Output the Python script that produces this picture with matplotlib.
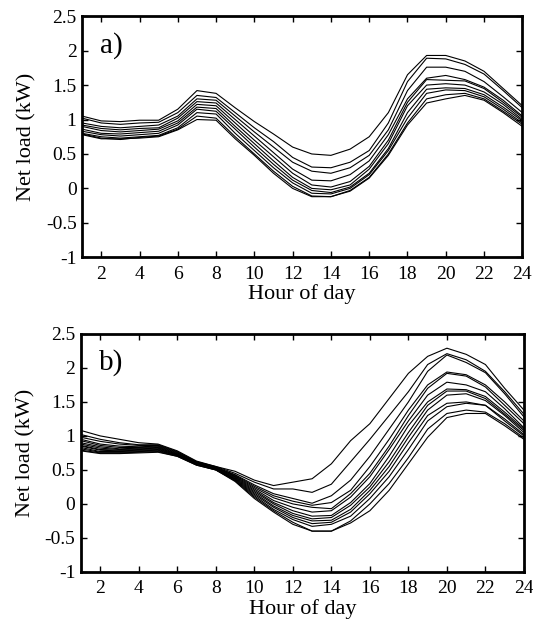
import matplotlib
matplotlib.use('Agg')
import matplotlib.pyplot as plt

plt.rcParams['font.family'] = ['Liberation Serif', 'DejaVu Serif']

hours = list(range(1, 25))

# panel a) net load profiles (kW)
a1 = [1.05, 0.98, 0.97, 0.99, 0.99, 1.15, 1.42, 1.38, 1.17, 0.97, 0.79, 0.60, 0.50, 0.48, 0.57, 0.75, 1.10, 1.65, 1.93, 1.93, 1.85, 1.70, 1.45, 1.20]
a2 = [1.02, 0.95, 0.93, 0.95, 0.96, 1.10, 1.35, 1.32, 1.10, 0.88, 0.68, 0.45, 0.31, 0.30, 0.38, 0.55, 0.95, 1.55, 1.89, 1.88, 1.80, 1.66, 1.42, 1.17]
a3 = [0.95, 0.90, 0.88, 0.90, 0.92, 1.05, 1.30, 1.28, 1.05, 0.82, 0.60, 0.38, 0.25, 0.22, 0.30, 0.48, 0.85, 1.42, 1.76, 1.76, 1.70, 1.55, 1.33, 1.10]
a4 = [0.92, 0.87, 0.85, 0.87, 0.88, 1.02, 1.26, 1.24, 1.00, 0.76, 0.52, 0.28, 0.12, 0.11, 0.20, 0.40, 0.78, 1.30, 1.60, 1.64, 1.58, 1.47, 1.28, 1.05]
a5 = [0.90, 0.84, 0.82, 0.84, 0.86, 0.98, 1.22, 1.20, 0.95, 0.70, 0.46, 0.22, 0.05, 0.02, 0.10, 0.32, 0.70, 1.25, 1.58, 1.57, 1.56, 1.45, 1.25, 1.03]
a6 = [0.86, 0.80, 0.79, 0.81, 0.83, 0.95, 1.18, 1.16, 0.90, 0.65, 0.40, 0.16, 0.00, -0.02, 0.05, 0.28, 0.65, 1.20, 1.50, 1.52, 1.50, 1.40, 1.22, 1.00]
a7 = [0.83, 0.78, 0.76, 0.78, 0.80, 0.92, 1.15, 1.12, 0.86, 0.60, 0.35, 0.12, -0.03, -0.06, 0.02, 0.22, 0.58, 1.10, 1.44, 1.46, 1.45, 1.36, 1.18, 0.98]
a8 = [0.80, 0.75, 0.73, 0.75, 0.77, 0.88, 1.10, 1.08, 0.80, 0.55, 0.30, 0.08, -0.07, -0.08, 0.00, 0.20, 0.55, 1.02, 1.38, 1.43, 1.42, 1.33, 1.15, 0.95]
a9 = [0.79, 0.73, 0.71, 0.74, 0.76, 0.86, 1.05, 1.02, 0.75, 0.50, 0.25, 0.03, -0.11, -0.12, -0.03, 0.16, 0.50, 0.95, 1.30, 1.36, 1.38, 1.30, 1.12, 0.93]
a10 = [0.78, 0.72, 0.72, 0.73, 0.75, 0.85, 1.00, 0.99, 0.72, 0.48, 0.22, 0.00, -0.12, -0.12, -0.04, 0.15, 0.48, 0.92, 1.24, 1.30, 1.35, 1.28, 1.10, 0.90]

# panel b)
b1 = [1.08, 1.00, 0.95, 0.90, 0.88, 0.78, 0.63, 0.55, 0.48, 0.35, 0.27, 0.32, 0.37, 0.59, 0.93, 1.18, 1.55, 1.92, 2.17, 2.29, 2.20, 2.05, 1.70, 1.38]
b2 = [1.02, 0.95, 0.90, 0.87, 0.87, 0.77, 0.62, 0.55, 0.45, 0.32, 0.22, 0.22, 0.17, 0.29, 0.62, 0.95, 1.30, 1.65, 2.05, 2.21, 2.12, 1.95, 1.65, 1.32]
b3 = [0.98, 0.92, 0.88, 0.86, 0.86, 0.76, 0.62, 0.54, 0.43, 0.28, 0.15, 0.08, 0.01, 0.12, 0.35, 0.70, 1.10, 1.50, 1.95, 2.19, 2.08, 1.93, 1.62, 1.28]
b4 = [0.95, 0.88, 0.85, 0.84, 0.85, 0.75, 0.61, 0.54, 0.42, 0.26, 0.12, 0.04, -0.02, 0.02, 0.20, 0.55, 0.95, 1.38, 1.75, 1.94, 1.90, 1.75, 1.50, 1.22]
b5 = [0.93, 0.86, 0.83, 0.83, 0.84, 0.74, 0.60, 0.53, 0.41, 0.24, 0.09, 0.00, -0.05, -0.07, 0.15, 0.45, 0.85, 1.30, 1.70, 1.92, 1.88, 1.72, 1.45, 1.18]
b6 = [0.90, 0.84, 0.81, 0.82, 0.83, 0.73, 0.60, 0.53, 0.40, 0.22, 0.05, -0.05, -0.12, -0.10, 0.10, 0.40, 0.80, 1.22, 1.60, 1.79, 1.75, 1.65, 1.40, 1.12]
b7 = [0.88, 0.82, 0.80, 0.81, 0.82, 0.73, 0.60, 0.52, 0.39, 0.20, 0.02, -0.10, -0.18, -0.17, 0.02, 0.30, 0.70, 1.15, 1.50, 1.69, 1.68, 1.58, 1.35, 1.10]
b8 = [0.86, 0.80, 0.79, 0.80, 0.81, 0.72, 0.59, 0.52, 0.38, 0.18, 0.00, -0.14, -0.22, -0.20, -0.02, 0.25, 0.62, 1.05, 1.45, 1.66, 1.66, 1.55, 1.32, 1.08]
b9 = [0.85, 0.79, 0.78, 0.79, 0.80, 0.72, 0.59, 0.51, 0.37, 0.16, -0.03, -0.17, -0.25, -0.24, -0.08, 0.20, 0.55, 0.98, 1.38, 1.60, 1.62, 1.52, 1.30, 1.05]
b10 = [0.83, 0.77, 0.77, 0.78, 0.79, 0.71, 0.58, 0.51, 0.36, 0.14, -0.05, -0.20, -0.29, -0.27, -0.12, 0.15, 0.48, 0.90, 1.30, 1.48, 1.50, 1.45, 1.25, 1.02]
b11 = [0.81, 0.76, 0.76, 0.77, 0.78, 0.71, 0.58, 0.50, 0.35, 0.12, -0.08, -0.23, -0.33, -0.30, -0.18, 0.08, 0.40, 0.80, 1.22, 1.43, 1.48, 1.45, 1.22, 1.00]
b12 = [0.79, 0.75, 0.75, 0.76, 0.77, 0.70, 0.57, 0.50, 0.34, 0.10, -0.10, -0.27, -0.40, -0.40, -0.25, 0.00, 0.30, 0.68, 1.10, 1.33, 1.38, 1.35, 1.18, 0.97]
b13 = [0.78, 0.74, 0.74, 0.75, 0.76, 0.70, 0.57, 0.50, 0.33, 0.08, -0.12, -0.30, -0.40, -0.40, -0.28, -0.10, 0.20, 0.59, 0.98, 1.27, 1.33, 1.33, 1.15, 0.95]

panel_a = [a1, a2, a3, a4, a5, a6, a7, a8, a9, a10]
panel_b = [b1, b2, b3, b4, b5, b6, b7, b8, b9, b10, b11, b12, b13]

xticks = list(range(2, 25, 2))
yticks = [-1, -0.5, 0, 0.5, 1, 1.5, 2, 2.5]
yticklabels = ['-1', '-0.5', '0', '0.5', '1', '1.5', '2', '2.5']

fig = plt.figure(figsize=(5.33, 6.23), dpi=100)
ax_a = fig.add_axes([0.154, 0.587, 0.826, 0.387])
ax_b = fig.add_axes([0.152, 0.082, 0.831, 0.382])

for ax, series, tag in [(ax_a, panel_a, 'a)'), (ax_b, panel_b, 'b)')]:
    for s in series:
        ax.plot(hours, s, color='black', linewidth=0.8)
    ax.set_xlim(1, 24)
    ax.set_ylim(-1, 2.5)
    ax.set_xticks(xticks)
    ax.set_yticks(yticks)
    ax.set_yticklabels(yticklabels)
    ax.tick_params(direction='in', top=True, right=True, length=4, width=1,
                   labelsize=14)
    ax.tick_params(axis='x', pad=6)
    ax.tick_params(axis='y', pad=4)
    for sp in ax.spines.values():
        sp.set_linewidth(2)
    ax.set_xlabel('Hour of day', fontsize=16, labelpad=1)
    ax.set_ylabel('Net load (kW)', fontsize=16, labelpad=7)
    ax.text(0.04, 0.88, tag, transform=ax.transAxes, fontsize=21,
            ha='left', va='center')

fig.savefig('out.png', dpi=100)
